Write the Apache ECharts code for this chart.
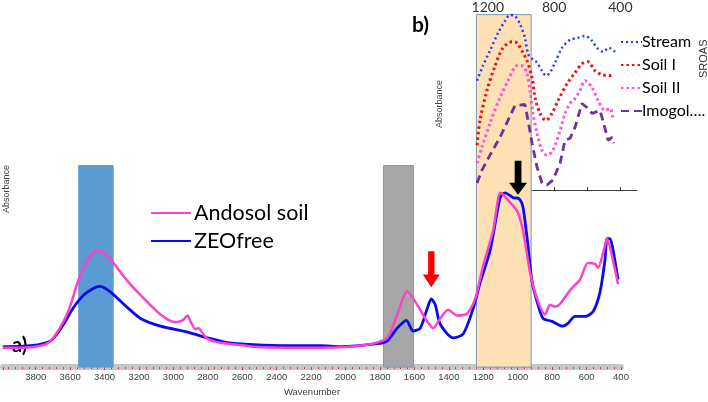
<!DOCTYPE html>
<html><head><meta charset="utf-8">
<script src="https://cdn.jsdelivr.net/npm/echarts@6/dist/echarts.min.js"></script>
<style>html,body{margin:0;padding:0;background:#fff}#c{width:708px;height:402px}</style>
</head><body><div id="c"></div>
<script>
// ---- Main panel a) ----
const andosolWn = [3991,3887,3771,3713,3638,3597,3551,3498,3440,3382,3336,3260,3191,3075,2988,2947,2918,2901,2872,2854,2831,2802,2727,2628,2535,2338,2146,1874,1758,1700,1642,1584,1526,1491,1450,1404,1352,1294,1247,1201,1143,1102,1085,1044,1003,969,928,887,841,812,783,754,696,638,592,551,533,504,481,452,417];
const andosolAbs = [0.20,0.20,0.22,0.27,0.47,0.64,0.90,1.10,1.20,1.14,1.04,0.87,0.74,0.54,0.46,0.48,0.53,0.47,0.39,0.40,0.35,0.29,0.25,0.23,0.21,0.20,0.20,0.23,0.30,0.54,0.78,0.64,0.47,0.40,0.50,0.59,0.53,0.55,0.70,1.04,1.40,1.79,1.77,1.69,1.60,1.40,0.97,0.70,0.54,0.64,0.62,0.65,0.79,0.90,1.07,1.06,1.02,1.17,1.32,1.14,0.85];
const zeoWn = [3991,3829,3713,3638,3585,3521,3452,3423,3365,3260,3191,3075,2918,2802,2686,2535,2338,2146,2030,1816,1758,1700,1647,1607,1566,1526,1502,1479,1450,1375,1317,1259,1218,1160,1102,1073,1027,992,969,940,916,887,853,800,742,708,667,609,562,522,493,481,464,446,417];
const zeoAbs = [0.21,0.22,0.27,0.44,0.60,0.74,0.82,0.83,0.77,0.60,0.50,0.42,0.36,0.30,0.25,0.23,0.22,0.22,0.21,0.24,0.27,0.40,0.48,0.37,0.40,0.60,0.70,0.64,0.44,0.30,0.34,0.60,0.87,1.20,1.74,1.79,1.74,1.73,1.64,1.24,0.87,0.67,0.50,0.47,0.42,0.45,0.52,0.52,0.57,0.77,1.10,1.32,1.32,1.20,0.90];
// highlighted bands (wavenumber ranges and heights)
const bandFrom = [3550, 1780, 1240];
const bandTo   = [3350, 1605, 922];
const bandTop  = [2.07, 2.07, 3.62];
// arrows (tip positions)
const redArrow = [1502, 0.82];
const blackArrow = [998, 1.77];
// ---- Inset b) ----
const streamWn = [1265,1229,1187,1138,1096,1066,1036,1006,976,957,933,903,873,849,825,795,752,704,656,614,571,541,505,469,433];
const streamAbs = [1.10,1.25,1.40,1.58,1.70,1.76,1.75,1.67,1.53,1.37,1.32,1.28,1.20,1.15,1.18,1.28,1.43,1.51,1.53,1.55,1.50,1.43,1.39,1.43,1.39];
const soil1Wn = [1265,1247,1205,1156,1108,1054,1024,994,963,933,915,885,849,813,776,722,674,632,596,553,511,451];
const soil1Abs = [0.45,0.70,1.00,1.25,1.43,1.49,1.48,1.40,1.30,1.13,0.93,0.77,0.70,0.77,0.90,1.07,1.18,1.27,1.29,1.20,1.16,1.15];
const soil2Wn = [1265,1235,1187,1126,1078,1024,994,963,945,927,903,873,843,807,764,734,704,674,644,614,571,535,493,463,445];
const soil2Abs = [0.27,0.43,0.67,0.93,1.10,1.25,1.25,1.17,1.00,0.77,0.57,0.40,0.35,0.40,0.60,0.77,0.87,0.92,1.00,1.10,1.03,0.90,0.80,0.82,0.72];
const imogoWn = [1265,1235,1187,1126,1078,1036,976,957,933,903,873,843,807,764,734,704,674,632,602,571,523,493,475,451,439];
const imogoAbs = [0.07,0.20,0.35,0.53,0.70,0.85,0.86,0.70,0.47,0.23,0.07,0.05,0.10,0.27,0.50,0.52,0.63,0.87,0.83,0.77,0.80,0.62,0.50,0.53,0.47];
const mainTicks = [3800,3600,3400,3200,3000,2800,2600,2400,2200,2000,1800,1600,1400,1200,1000,800,600,400];
const insetLabels = [1200, 800, 400];
const insetTicks = [1200, 1000, 800, 600, 400];

const zip = (a, b) => a.map((v, i) => [v, b[i]]);
const FONT = 'Lato, "Open Sans", sans-serif';
const arrowPath = 'path://M5,0 L11,0 L11,22 L16,22 L8,34 L0,22 L5,22 Z';
const bandColors = ['#5b9bd5', '#a6a6a6', '#fde0b4'];
const noSymbol = {color: 'rgba(0,0,0,0)', borderColor: 'rgba(0,0,0,0)', borderWidth: 0};

const chart = echarts.init(document.getElementById('c'), null, {renderer: 'canvas'});
chart.setOption({
  animation: false,
  backgroundColor: '#fff',
  grid: [
    {left: 2, right: 87, top: 0, bottom: 25},
    {left: 477, width: 160, top: 14, height: 176}
  ],
  xAxis: [
    {
      type: 'value', gridIndex: 0, min: 400, max: 3990, inverse: true, interval: 200,
      axisLine: {lineStyle: {color: '#c6c6c6', width: 6}},
      axisTick: {length: 3, lineStyle: {color: '#e23030', width: 1}},
      minorTick: {show: true, splitNumber: 5, length: 2, lineStyle: {color: '#e23030', width: 1}},
      splitLine: {show: false},
      axisLabel: {
        fontSize: 9.5, color: '#404040', margin: 5, fontFamily: 'Liberation Sans, Arial, sans-serif',
        formatter: v => mainTicks.includes(v) ? String(v) : ''
      },
      name: 'Wavenumber', nameLocation: 'middle', nameGap: 16,
      nameTextStyle: {fontSize: 9.5, color: '#404040', fontFamily: 'Liberation Sans, Arial, sans-serif'}
    },
    {
      type: 'value', gridIndex: 1, position: 'top', min: 300, max: 1265, inverse: true,
      axisLine: {lineStyle: {color: '#404040', width: 1}},
      axisTick: {show: true, length: 3, customValues: insetTicks, lineStyle: {color: '#404040'}},
      splitLine: {show: false},
      axisLabel: {customValues: insetLabels, fontSize: 14, color: '#333', margin: 1, fontFamily: FONT,
        formatter: v => String(v)}
    }
  ],
  yAxis: [
    {type: 'value', gridIndex: 0, min: 0, max: 3.77, show: false},
    {type: 'value', gridIndex: 1, min: 0, max: 1.76, show: false}
  ],
  legend: [
    {
      data: ['Andosol soil', 'ZEOfree'], orient: 'vertical', left: 145, top: 197,
      itemWidth: 40, itemHeight: 14, itemGap: 6, itemStyle: noSymbol,
      textStyle: {fontSize: 21.5, color: '#000', fontFamily: FONT, padding: [0, 0, 0, -2]}
    },
    {
      data: ['Stream', 'Soil I', 'Soil II', 'Imogolite'], orient: 'vertical', left: 615, top: 29,
      itemWidth: 21, itemHeight: 12, itemGap: 7, itemStyle: noSymbol,
      formatter: n => n === 'Imogolite' ? 'Imogol….' : n,
      textStyle: {fontSize: 16, color: '#000', fontFamily: FONT, padding: [0, 0, 0, -5]}
    }
  ],
  series: [
    {
      type: 'line', name: 'bands', xAxisIndex: 0, yAxisIndex: 0, data: [], z: 1, silent: true,
      markArea: {
        silent: true,
        data: bandFrom.map((f, i) => [
          {xAxis: f, yAxis: 0, itemStyle: {color: bandColors[i], opacity: 1,
            borderColor: i === 0 ? '#5b9bd5' : '#7f98b8', borderWidth: 1}},
          {xAxis: bandTo[i], yAxis: bandTop[i]}
        ])
      }
    },
    {
      type: 'line', name: 'Andosol soil', xAxisIndex: 0, yAxisIndex: 0, z: 3,
      data: zip(andosolWn, andosolAbs), symbol: 'none', smooth: 0.25,
      lineStyle: {color: '#ff40cc', width: 2.5}, itemStyle: {color: '#ff40cc'},
      markPoint: {
        silent: true,
        data: [
          {coord: redArrow, symbol: arrowPath, symbolSize: [17, 36], symbolOffset: [0, -18], itemStyle: {color: '#ff0000'}, label: {show: false}},
          {coord: blackArrow, symbol: arrowPath, symbolSize: [18, 34], symbolOffset: [0, -17], itemStyle: {color: '#000'}, label: {show: false}}
        ]
      }
    },
    {
      type: 'line', name: 'ZEOfree', xAxisIndex: 0, yAxisIndex: 0, z: 2,
      data: zip(zeoWn, zeoAbs), symbol: 'none', smooth: 0.25,
      lineStyle: {color: '#0a0af0', width: 2.8}, itemStyle: {color: '#0a0af0'}
    },
    {
      type: 'line', name: 'Stream', xAxisIndex: 1, yAxisIndex: 1, z: 5, clip: false,
      data: zip(streamWn, streamAbs), symbol: 'none', smooth: 0.3,
      lineStyle: {color: '#1f3df0', width: 2.5, type: [2, 3]}, itemStyle: {color: '#1f3df0'}
    },
    {
      type: 'line', name: 'Soil I', xAxisIndex: 1, yAxisIndex: 1, z: 5, clip: false,
      data: zip(soil1Wn, soil1Abs), symbol: 'none', smooth: 0.3,
      lineStyle: {color: '#ee1111', width: 3, type: [2.5, 3]}, itemStyle: {color: '#ee1111'}
    },
    {
      type: 'line', name: 'Soil II', xAxisIndex: 1, yAxisIndex: 1, z: 5, clip: false,
      data: zip(soil2Wn, soil2Abs), symbol: 'none', smooth: 0.3,
      lineStyle: {color: '#ff50d8', width: 3, type: [2.5, 3]}, itemStyle: {color: '#ff50d8'}
    },
    {
      type: 'line', name: 'Imogolite', xAxisIndex: 1, yAxisIndex: 1, z: 5, clip: false,
      data: zip(imogoWn, imogoAbs), symbol: 'none', smooth: false,
      lineStyle: {color: '#7030a0', width: 2.8, type: [8, 5]}, itemStyle: {color: '#7030a0'}
    }
  ],
  graphic: [
    {type: 'text', left: 2, top: 165, rotation: Math.PI / 2, style: {text: 'Absorbance', fontSize: 9, fill: '#404040', fontFamily: 'Liberation Sans, Arial, sans-serif'}},
    {type: 'text', x: 435, y: 128, rotation: Math.PI / 2, style: {text: 'Absorbance', fontSize: 9, fill: '#404040', fontFamily: 'Liberation Sans, Arial, sans-serif'}},
    {type: 'text', x: 698, y: 78, rotation: Math.PI / 2, style: {text: 'SROAS', fontSize: 11, fill: '#333', fontFamily: 'Liberation Sans, Arial, sans-serif'}},
    {type: 'text', x: 12, y: 336, style: {text: 'a)', fontSize: 20, fontWeight: 'bold', fill: '#000', fontFamily: FONT}},
    {type: 'text', x: 412, y: 15, style: {text: 'b)', fontSize: 21, fontWeight: 'bold', fill: '#000', fontFamily: FONT}}
  ]
});
</script></body></html>
